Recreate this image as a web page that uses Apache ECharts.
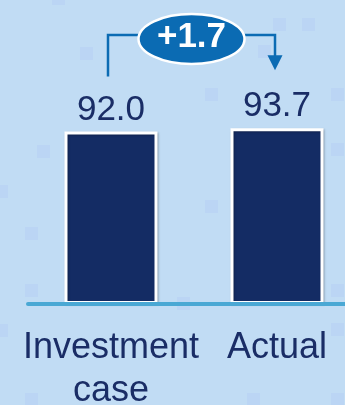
<!DOCTYPE html>
<html>
<head>
<meta charset="utf-8">
<script src="https://cdn.jsdelivr.net/npm/echarts@6/dist/echarts.min.js"></script>
<style>
html,body{margin:0;padding:0;background:#c1dcf4;}
#c{width:345px;height:405px;}
</style>
</head>
<body>
<div id="c"></div>
<script>
const categories = ['Investment\ncase', 'Actual'];
const values = [92.0, 93.7];
const deltaLabel = '+1.7';

const FONT = '"Liberation Sans", Arial, sans-serif';
const chart = echarts.init(document.getElementById('c'), null, {renderer: 'canvas'});
chart.setOption({
  backgroundColor: '#c1dcf4',
  animation: false,
  grid: {left: 28, right: -15, top: 116.5, bottom: 101, containLabel: false, outerBoundsMode: 'none'},
  xAxis: {
    type: 'category',
    data: categories,
    z: 5,
    axisLine: {show: true, lineStyle: {color: '#4aa8d4', width: 4}},
    axisTick: {show: false},
    axisLabel: {
      color: '#1a2d66', fontSize: 36, fontFamily: FONT, lineHeight: 43,
      margin: 23, interval: 0
    }
  },
  yAxis: {
    type: 'value', min: 0, max: 100, show: false,
    splitLine: {show: false}
  },
  series: [{
    type: 'bar',
    data: values,
    barWidth: 93,
    itemStyle: {
      color: '#142c64', borderColor: '#ffffff', borderWidth: 3,
      shadowColor: 'rgba(0,0,0,0.25)', shadowBlur: 2, shadowOffsetX: 1, shadowOffsetY: 1
    },
    label: {
      show: true, position: 'top', distance: 4,
      formatter: p => p.value.toFixed(1),
      color: '#1a2d66', fontSize: 35, fontFamily: FONT
    }
  }]
});

// Faint decorative background squares
const deco = [[52,-8],[80,47],[273,18],[302,18],[258,45],[205,88],[331,88],[37,145],[-5,185],[25,227],
  [205,200],[331,143],[25,284],[177,297],[331,284],[-5,324],[331,323],[25,393],[247,393],[331,393]];
const decoGraphics = deco.map(d => ({type: 'rect', z: -1, silent: true,
  shape: {x: d[0], y: d[1], width: 13, height: 13}, style: {fill: 'rgba(175,200,245,0.3)'}}));

// Annotation bracket computed from data positions
const p1 = chart.convertToPixel({gridIndex: 0}, [0, values[0]]);
const p2 = chart.convertToPixel({gridIndex: 0}, [1, values[1]]);
const x1 = p1[0] - 3, x2 = p2[0] - 2;
const yTop = 35;
const y1Bottom = p1[1] - 55;
const tipY = p2[1] - 58;
const cx = (x1 + x2) / 2, cy = 39;
const lineColor = '#0b6bb3';
chart.setOption({
  graphic: decoGraphics.concat([
    {type: 'polyline', z: 10, shape: {points: [[x1, y1Bottom], [x1, yTop], [cx, yTop]]},
      style: {stroke: lineColor, lineWidth: 2.5, fill: null}},
    {type: 'polyline', z: 10, shape: {points: [[cx, yTop], [x2, yTop], [x2, tipY - 12]]},
      style: {stroke: lineColor, lineWidth: 2.5, fill: null}},
    {type: 'polygon', z: 10, shape: {points: [[x2 - 7.5, tipY - 15], [x2 + 7.5, tipY - 15], [x2, tipY]]},
      style: {fill: lineColor}},
    {type: 'ellipse', z: 11, shape: {cx: cx, cy: cy, rx: 53, ry: 25},
      style: {fill: lineColor, stroke: '#ffffff', lineWidth: 2.5}},
    {type: 'text', z: 12, x: cx, y: cy - 2,
      style: {text: deltaLabel, fill: '#ffffff', font: 'bold 35px ' + FONT,
        align: 'center', verticalAlign: 'middle'}}
  ])
});
</script>
</body>
</html>
